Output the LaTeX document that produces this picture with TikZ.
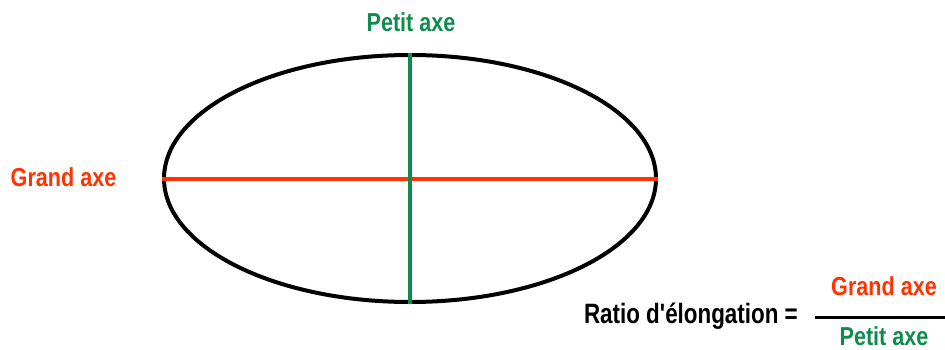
\documentclass[tikz,border=0pt]{standalone}
\usepackage{fontspec}
\setmainfont{Liberation Sans}[FakeStretch=0.83]
\newfontfamily\ratiofont{Liberation Sans}[FakeStretch=0.8]
\usetikzlibrary{shapes.geometric}
\definecolor{axred}{RGB}{255,51,0}
\definecolor{axgreen}{RGB}{14,140,78}
\tikzset{
  lbl/.style={inner sep=0pt, anchor=base, font=\fontsize{26}{26}\selectfont\bfseries},
}
\begin{document}
\begin{tikzpicture}[x=1pt,y=1pt]
\useasboundingbox (0,0) rectangle (945,349);
\node[draw=black, line width=4pt, ellipse, inner sep=0pt, minimum width=492pt, minimum height=247pt] (e) at (410,170.5) {};
\draw[axred, line width=4pt] (e.west) -- (e.east);
\draw[axgreen, line width=3.5pt] (e.north) -- (e.south);
\node[lbl, text=axgreen] (pa) at (411,317) {Petit axe};
\node[lbl, text=axred] (ga) at (63.5,163) {Grand axe};
\node[lbl, anchor=base east, font=\ratiofont\fontsize{28}{28}\selectfont\bfseries] (r) at (798,26) {Ratio d'élongation =};
\coordinate (f1) at (815,32);
\coordinate (f2) at (945,32);
\draw[line width=3pt] (f1) -- (f2);
\node[lbl, text=axred] (gn) at (884,54) {Grand axe};
\node[lbl, text=axgreen] (pd) at (884,4) {Petit axe};
\end{tikzpicture}
\end{document}
